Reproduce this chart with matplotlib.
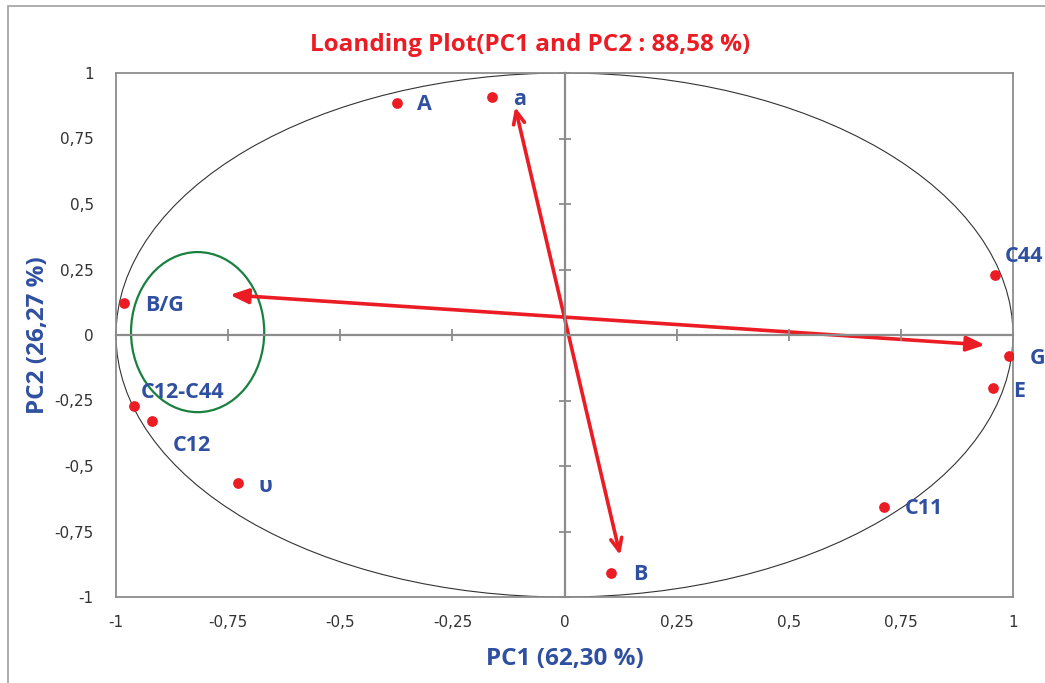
import matplotlib.pyplot as plt
from matplotlib.patches import Ellipse, Rectangle

# loadings
names = ["A", "a", "B/G", "C12-C44", "C12", "\u03c5", "B", "C11", "C44", "G", "E"]
pc1 = [-0.373, -0.162, -0.982, -0.960, -0.920, -0.728, 0.104, 0.712, 0.960, 0.991, 0.955]
pc2 = [0.885, 0.908, 0.122, -0.270, -0.328, -0.565, -0.908, -0.656, 0.229, -0.080, -0.202]
label_dx = [0.045, 0.047, 0.047, 0.016, 0.047, 0.045, 0.049, 0.047, 0.022, 0.047, 0.045]
label_dy = [-0.005, -0.01, -0.008, 0.05, -0.095, -0.012, -0.008, -0.008, 0.069, -0.008, -0.012]

ticks = [-1, -0.75, -0.5, -0.25, 0, 0.25, 0.5, 0.75, 1]
tick_labels = ["-1", "-0,75", "-0,5", "-0,25", "0", "0,25", "0,5", "0,75", "1"]

# arrows (start, end)
arrow_h = ((-0.746, 0.153), (0.9375, -0.038))
arrow_v = ((-0.110, 0.870), (0.124, -0.840))

RED = "#ec1c24"
BLUE = "#2f4fa0"
GRAY = "#8c8c8c"

fig = plt.figure(figsize=(10.45, 6.83), dpi=100)
fig.patches.append(Rectangle((8 / 1045, -0.01), 1.1, 1 - 6 / 683 + 0.01, transform=fig.transFigure,
                             fill=False, edgecolor="#a0a0a0", lw=1.2))

pos = [116 / 1045, 86 / 683, 897 / 1045, 524 / 683]
ax = fig.add_axes(pos)
ax.set_xlim(-1, 1)
ax.set_ylim(-1, 1)
ax.set_xticks(ticks)
ax.set_xticklabels(tick_labels)
ax.set_yticks(ticks)
ax.set_yticklabels(tick_labels)
ax.tick_params(length=0, labelsize=11, labelcolor="#333333", pad=13)
ax.tick_params(axis="y", pad=16)
for s in ax.spines.values():
    s.set_color(GRAY)
    s.set_linewidth(1.3)

# zero axes with crossing ticks
ax2 = fig.add_axes(pos, sharex=ax, sharey=ax)
ax2.patch.set_visible(False)
ax2.spines["left"].set_position(("data", 0))
ax2.spines["bottom"].set_position(("data", 0))
ax2.spines["top"].set_visible(False)
ax2.spines["right"].set_visible(False)
for k in ("left", "bottom"):
    ax2.spines[k].set_color(GRAY)
    ax2.spines[k].set_linewidth(1.6)
ax2.tick_params(direction="inout", length=8, width=1.3, color=GRAY,
                labelleft=False, labelbottom=False)

ax.add_patch(Ellipse((0, 0), 2, 2, fill=False, edgecolor="#333333", lw=0.8, zorder=2))
ax.add_patch(Ellipse((-0.818, 0.011), 0.297, 0.611, fill=False, edgecolor="#1a8040", lw=1.6, zorder=2))

ax.scatter(pc1, pc2, s=45, color=RED, zorder=5)
for n, x, y, dx, dy in zip(names, pc1, pc2, label_dx, label_dy):
    ax.text(x + dx, y + dy, n, color=BLUE, fontsize=15.5, fontweight="bold",
            family="Open Sans", va="center", ha="left", zorder=6)

ax.annotate("", xy=arrow_h[0], xytext=arrow_h[1],
            arrowprops=dict(arrowstyle="<|-|>,head_length=1.1,head_width=0.45",
                            color=RED, lw=2.6, shrinkA=0, shrinkB=0), zorder=4)
ax.annotate("", xy=arrow_v[0], xytext=arrow_v[1],
            arrowprops=dict(arrowstyle="<->,head_length=0.9,head_width=0.4",
                            color=RED, lw=2.6, shrinkA=0, shrinkB=0), zorder=4)

fig.text(530 / 1045, 1 - 45 / 683, "Loanding Plot(PC1 and PC2 : 88,58 %)", color=RED,
         fontsize=17.5, fontweight="bold", family="Open Sans", ha="center", va="center")
fig.text(565 / 1045, 1 - 659 / 683, "PC1 (62,30 %)", color=BLUE, fontsize=17.5,
         fontweight="bold", family="Open Sans", ha="center", va="center")
fig.text(38 / 1045, 1 - 335 / 683, "PC2 (26,27 %)", color=BLUE, fontsize=17.5,
         fontweight="bold", family="Open Sans", ha="center", va="center", rotation=90)

fig.savefig("out.png", dpi=100)
